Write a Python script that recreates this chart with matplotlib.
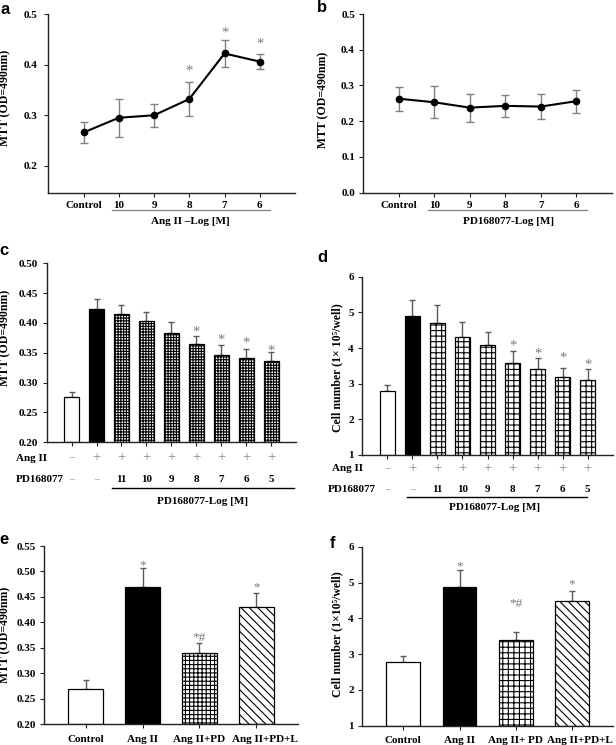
import numpy as np
import matplotlib
matplotlib.use("Agg")
import matplotlib.pyplot as plt
import matplotlib.transforms as mtransforms

plt.rcParams['font.family'] = ['Liberation Serif', 'DejaVu Serif']
plt.rcParams['font.weight'] = 'bold'
plt.rcParams['hatch.linewidth'] = 0.8

# ---------------- data ----------------
# panel a
a_labels = ['Control', '10', '9', '8', '7', '6']
a_vals = [0.266, 0.295, 0.300, 0.332, 0.422, 0.406]
a_err = [0.020, 0.038, 0.023, 0.033, 0.027, 0.015]
a_star_idx = [3, 4, 5]
a_star_y = [0.387, 0.463, 0.440]

# panel b
b_labels = ['Control', '10', '9', '8', '7', '6']
b_vals = [0.263, 0.253, 0.238, 0.243, 0.241, 0.256]
b_err = [0.034, 0.045, 0.039, 0.030, 0.035, 0.032]

# panel c
c_vals = [0.276, 0.423, 0.415, 0.403, 0.384, 0.364, 0.346, 0.341, 0.337]
c_err = [0.008, 0.017, 0.015, 0.015, 0.018, 0.014, 0.017, 0.015, 0.014]
c_star_idx = [5, 6, 7, 8]
c_star_y = [0.385, 0.371, 0.366, 0.353]

# panel d
d_vals = [2.80, 4.90, 4.70, 4.30, 4.09, 3.59, 3.40, 3.20, 3.09]
d_err = [0.17, 0.46, 0.51, 0.42, 0.37, 0.33, 0.33, 0.25, 0.32]
d_star_idx = [5, 6, 7, 8]
d_star_y = [4.06, 3.84, 3.72, 3.52]

angii_row = ['\u2013', '+', '+', '+', '+', '+', '+', '+', '+']
pd_row = ['\u2013', '\u2013', '11', '10', '9', '8', '7', '6', '5']

# panel e
e_labels = ['Control', 'Ang II', 'Ang II+PD', 'Ang II+PD+L']
e_vals = [0.269, 0.470, 0.340, 0.430]
e_err = [0.018, 0.036, 0.019, 0.028]
e_marks = ['', '*', '*#', '*']
e_mark_y = [0, 0.513, 0.370, 0.469]

# panel f
f_labels = ['Control', 'Ang II', 'Ang II+ PD', 'Ang II+PD+L']
f_vals = [2.78, 4.88, 3.38, 4.48]
f_err = [0.18, 0.47, 0.24, 0.29]
f_marks = ['', '*', '*#', '*']
f_mark_y = [0, 5.46, 4.40, 4.94]

# ---------------- figure ----------------
W, H = 616, 745
fig = plt.figure(figsize=(W / 100, H / 100), dpi=100)
fig.patch.set_facecolor('white')


def add_ax(l, t, r, b):
    return fig.add_axes([l / W, 1 - b / H, (r - l) / W, (b - t) / H])


def fx(x):
    return x / W


def fy(y):
    return 1 - y / H


TICKFONT = 8
GRAY = '#7a7a7a'
ECOL = '#5a5a5a'
STAR = 10.5
SIGN = 10.5


def style(ax):
    for s in ['top', 'right']:
        ax.spines[s].set_visible(False)
    for s in ['left', 'bottom']:
        ax.spines[s].set_linewidth(1.0)
        ax.spines[s].set_color('#222222')
    ax.tick_params(direction='out', length=3, width=0.8, color='#222222',
                   labelsize=TICKFONT, pad=3)
    for lab in ax.get_yticklabels() + ax.get_xticklabels():
        lab.set_fontweight('bold')


def panel_letter(x, y, s):
    fig.text(fx(x), fy(y), s, fontsize=12, fontweight='bold',
             family=['Liberation Sans', 'DejaVu Sans'], ha='center', va='center')


def ylabel(x, y, s):
    fig.text(fx(x), fy(y), s, rotation=90, fontsize=8.5, fontweight='bold',
             ha='center', va='center')


# ---- panel a ----
ax = add_ax(48.3, 14, 295, 192.7)
xa = np.arange(len(a_vals))
ax.errorbar(xa, a_vals, yerr=a_err, fmt='none', ecolor='#808080', elinewidth=1.0,
            capsize=3, capthick=1.0, zorder=2)
ax.plot(xa, a_vals, '-', color='black', lw=1.5, marker='o', ms=4.5, zorder=3)
for i, yv in zip(a_star_idx, a_star_y):
    ax.text(xa[i], yv, '*', color=GRAY, fontsize=STAR, fontweight='normal',
            ha='center', va='center')
ax.set_xlim(-1, 6)
ax.set_ylim(0.147, 0.5)
ax.set_yticks([0.2, 0.3, 0.4, 0.5])
ax.set_yticklabels(['0.2', '0.3', '0.4', '0.5'])
ax.set_xticks(xa)
ax.set_xticklabels(a_labels)
style(ax)
ax.tick_params(axis='y', pad=5)
tr = mtransforms.blended_transform_factory(ax.transData, fig.transFigure)
ax.plot([0.82, 5.28], [fy(210), fy(210)], color='#8a8a8a', lw=1.0,
        transform=tr, clip_on=False)
ax.text(3.02, fy(221.5), 'Ang II \u2013Log [M]', transform=tr, fontsize=8,
        fontweight='bold', ha='center', va='center')
panel_letter(5, 9, 'a')
ylabel(5, 98, 'MTT (OD=490nm)')

# ---- panel b ----
ax = add_ax(363.3, 14, 611.7, 192.7)
xb = np.arange(len(b_vals))
ax.errorbar(xb, b_vals, yerr=b_err, fmt='none', ecolor='#808080', elinewidth=1.0,
            capsize=3, capthick=1.0, zorder=2)
ax.plot(xb, b_vals, '-', color='black', lw=1.5, marker='o', ms=4.5, zorder=3)
ax.set_xlim(-1, 6)
ax.set_ylim(0, 0.5)
ax.set_yticks([0, 0.1, 0.2, 0.3, 0.4, 0.5])
ax.set_yticklabels(['0.0', '0.1', '0.2', '0.3', '0.4', '0.5'])
ax.set_xticks(xb)
ax.set_xticklabels(b_labels)
style(ax)
tr = mtransforms.blended_transform_factory(ax.transData, fig.transFigure)
ax.plot([0.81, 5.3], [fy(210), fy(210)], color='#8a8a8a', lw=1.0,
        transform=tr, clip_on=False)
ax.text(3.08, fy(221.5), 'PD168077-Log [M]', transform=tr, fontsize=8,
        fontweight='bold', ha='center', va='center')
panel_letter(322, 8, 'b')
ylabel(323, 100, 'MTT (OD=490nm)')


def bar_panel(ax, vals, errs, hatch_grid, width=0.62):
    x = np.arange(len(vals))
    faces = ['white', 'black'] + ['white'] * (len(vals) - 2)
    hatches = [None, None] + [hatch_grid] * (len(vals) - 2)
    for xi, v, fc, h in zip(x, vals, faces, hatches):
        ax.bar(xi, v - ax.get_ylim()[0], bottom=ax.get_ylim()[0], width=width,
               color=fc, edgecolor='black', linewidth=0.9, hatch=h, zorder=2)
    ax.errorbar(x, vals, yerr=[np.zeros(len(vals)), errs], fmt='none',
                ecolor=ECOL, elinewidth=1.0, capsize=2.5, capthick=1.0, zorder=1)
    return x


def row_text(ax, tr, xs, items, ypix):
    for xi, s in zip(xs, items):
        is_sign = s in ('\u2013', '+')
        ax.text(xi, fy(ypix), s, transform=tr,
                color='#888888' if is_sign else 'black',
                fontsize=SIGN if s == '+' else (8 if not is_sign else 7),
                fontweight='normal' if is_sign else 'bold',
                ha='center', va='center')


# ---- panel c ----
ax = add_ax(46.7, 263.3, 296, 442.3)
ax.set_ylim(0.20, 0.50)
ax.set_xlim(-1, 9)
xc = bar_panel(ax, c_vals, c_err, '++++++', width=0.6)
for i, yv in zip(c_star_idx, c_star_y):
    ax.text(xc[i], yv, '*', color=GRAY, fontsize=STAR, fontweight='normal',
            ha='center', va='center')
ax.set_yticks(np.arange(0.20, 0.501, 0.05))
ax.set_yticklabels(['0.20', '0.25', '0.30', '0.35', '0.40', '0.45', '0.50'])
ax.set_xticks(xc)
ax.set_xticklabels([])
style(ax)
tr = mtransforms.blended_transform_factory(ax.transData, fig.transFigure)
fig.text(fx(16), fy(458), 'Ang II', fontsize=8, fontweight='bold', ha='left', va='center')
fig.text(fx(16), fy(479.5), 'PD168077', fontsize=8, fontweight='bold', ha='left', va='center')
row_text(ax, tr, xc, angii_row, 458)
row_text(ax, tr, xc, pd_row, 479.5)
ax.plot([1.63, 8.9], [fy(487.7), fy(487.7)], color='black', lw=1.0,
        transform=tr, clip_on=False)
ax.text(5.26, fy(501), 'PD168077-Log [M]', transform=tr, fontsize=8,
        fontweight='bold', ha='center', va='center')
panel_letter(4, 251, 'c')
ylabel(5, 338, 'MTT (OD=490nm)')

# ---- panel d ----
ax = add_ax(362.3, 276.7, 612.7, 455)
ax.set_ylim(1, 6)
ax.set_xlim(-1, 9)
xd = bar_panel(ax, d_vals, d_err, '+++', width=0.62)
for i, yv in zip(d_star_idx, d_star_y):
    ax.text(xd[i], yv, '*', color=GRAY, fontsize=STAR, fontweight='normal',
            ha='center', va='center')
ax.set_yticks([1, 2, 3, 4, 5, 6])
ax.set_xticks(xd)
ax.set_xticklabels([])
style(ax)
tr = mtransforms.blended_transform_factory(ax.transData, fig.transFigure)
fig.text(fx(332), fy(468.3), 'Ang II', fontsize=8, fontweight='bold', ha='left', va='center')
fig.text(fx(328), fy(490), 'PD168077', fontsize=8, fontweight='bold', ha='left', va='center')
row_text(ax, tr, xd, angii_row, 468.3)
row_text(ax, tr, xd, pd_row, 490)
ax.plot([0.77, 7.97], [fy(496.7), fy(496.7)], color='black', lw=1.0,
        transform=tr, clip_on=False)
ax.text(4.29, fy(507), 'PD168077-Log [M]', transform=tr, fontsize=8,
        fontweight='bold', ha='center', va='center')
panel_letter(322, 258, 'd')
ylabel(337, 368, 'Cell number (1\u00d7 10\u2075/well)')


def group_panel(ax, vals, errs, labels, marks, mark_y, ybot, grid_hatch):
    x = np.arange(len(vals))
    faces = ['white', 'black', 'white', 'white']
    hatches = [None, None, grid_hatch, '\\\\\\\\']
    for xi, v, fc, h in zip(x, vals, faces, hatches):
        ax.bar(xi, v - ybot, bottom=ybot, width=0.6, color=fc, edgecolor='black',
               linewidth=0.9, hatch=h, zorder=2)
    ax.errorbar(x, vals, yerr=[np.zeros(len(vals)), errs], fmt='none',
                ecolor=ECOL, elinewidth=1.0, capsize=2.5, capthick=1.0, zorder=1)
    for xi, m, yv in zip(x, marks, mark_y):
        if m:
            ax.text(xi, yv, m, color=GRAY, fontsize=9.5, fontweight='normal',
                    ha='center', va='center')
    ax.set_xticks(x)
    ax.set_xticklabels(labels)
    ax.set_xlim(-0.73, 3.73)
    return x


def shift_last_label(ax, dx_px):
    lab = ax.get_xticklabels()[-1]
    lab.set_transform(lab.get_transform() +
                      mtransforms.ScaledTranslation(dx_px / 100, 0, fig.dpi_scale_trans))


# ---- panel e ----
ax = add_ax(44, 546, 298, 724.3)
ax.set_ylim(0.20, 0.55)
group_panel(ax, e_vals, e_err, e_labels, e_marks, e_mark_y, 0.20, '++++')
ax.set_yticks(np.arange(0.20, 0.551, 0.05))
ax.set_yticklabels(['0.20', '0.25', '0.30', '0.35', '0.40', '0.45', '0.50', '0.55'])
style(ax)
ax.tick_params(axis='x', pad=4.5)
shift_last_label(ax, 9)
panel_letter(4, 540, 'e')
ylabel(5, 635, 'MTT (OD=490nm)')

# ---- panel f ----
ax = add_ax(362.3, 546.7, 613, 725.7)
ax.set_ylim(1, 6)
group_panel(ax, f_vals, f_err, f_labels, f_marks, f_mark_y, 1, '+++')
ax.set_yticks([1, 2, 3, 4, 5, 6])
style(ax)
ax.tick_params(axis='x', pad=4.5)
shift_last_label(ax, 8)
panel_letter(332, 543, 'f')
ylabel(337, 634, 'Cell number (1\u00d710\u2075/well)')

fig.savefig('out.png', dpi=100, facecolor='white')
